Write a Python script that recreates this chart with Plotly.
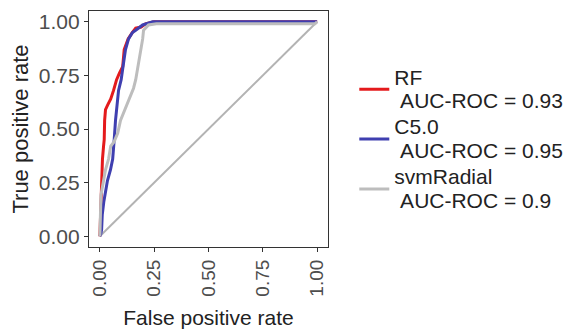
import plotly.graph_objects as go

# ---- data ----
rf_fpr = [0, 0.002, 0.005, 0.008, 0.012, 0.017, 0.020, 0.022, 0.026, 0.035, 0.050, 0.063, 0.077, 0.090, 0.105, 0.112, 0.130, 0.150, 0.165, 0.190, 0.210, 0.250, 1.0]
rf_tpr = [0, 0.08, 0.17, 0.28, 0.36, 0.42, 0.45, 0.54, 0.59, 0.61, 0.64, 0.68, 0.73, 0.76, 0.79, 0.87, 0.92, 0.95, 0.97, 0.975, 0.99, 1.0, 1.0]

c5_fpr = [0, 0.004, 0.008, 0.011, 0.018, 0.026, 0.035, 0.049, 0.059, 0.066, 0.072, 0.086, 0.098, 0.105, 0.118, 0.132, 0.150, 0.165, 0.197, 0.243, 1.0]
c5_tpr = [0, 0.01, 0.03, 0.10, 0.16, 0.20, 0.26, 0.31, 0.36, 0.45, 0.54, 0.68, 0.73, 0.78, 0.87, 0.92, 0.95, 0.96, 0.985, 1.0, 1.0]

svm_fpr = [0, 0.003, 0.005, 0.010, 0.017, 0.026, 0.040, 0.050, 0.065, 0.082, 0.095, 0.118, 0.141, 0.155, 0.165, 0.174, 0.188, 0.197, 0.201, 0.224, 0.26, 0.99, 1.0]
svm_tpr = [0, 0.10, 0.19, 0.22, 0.26, 0.31, 0.36, 0.42, 0.44, 0.48, 0.54, 0.60, 0.66, 0.69, 0.73, 0.78, 0.87, 0.92, 0.96, 0.985, 0.99, 0.99, 1.0]

diag_x = [0, 1]
diag_y = [0, 1]

models = ["RF", "C5.0", "svmRadial"]
aucs = ["0.93", "0.95", "0.9"]
tick_vals = [0, 0.25, 0.5, 0.75, 1.0]
tick_text = ["0.00", "0.25", "0.50", "0.75", "1.00"]

colors = ["#e41a1c", "#3f3fb0", "#bdbdbd"]
FONT = "Liberation Sans, Arial, sans-serif"


def legend_label(name, auc):
    return ('<span style="font-size:21px">' + name + '<br>\u00a0AUC-ROC = '
            + auc + '</span>')


fig = go.Figure()
fig.add_trace(go.Scatter(x=diag_x, y=diag_y, mode="lines",
                         line=dict(color="#b3b3b3", width=2),
                         showlegend=False, hoverinfo="skip"))
for fpr, tpr, name, auc, col in zip([rf_fpr, c5_fpr, svm_fpr],
                                    [rf_tpr, c5_tpr, svm_tpr],
                                    models, aucs, colors):
    fig.add_trace(go.Scatter(x=fpr, y=tpr, mode="lines",
                             line=dict(color=col, width=3),
                             name=legend_label(name, auc)))

axis_common = dict(
    range=[-0.05, 1.05], tickvals=tick_vals, ticktext=tick_text,
    showgrid=False, zeroline=False, showline=True, mirror=True,
    linecolor="#333333", linewidth=1.2, automargin=False,
    ticks="outside", ticklen=4, tickcolor="#333333", tickwidth=1.2,
)

# the page body adds an 8px offset, margins compensate for it
fig.update_layout(
    width=584, height=331,
    margin=dict(l=81, r=264, t=3, b=92),
    paper_bgcolor="white", plot_bgcolor="white",
    font=dict(family=FONT, color="#222222"),
    xaxis=dict(**axis_common, tickangle=-90,
               tickfont=dict(family=FONT, size=19, color="#4d4d4d"),
               title=dict(text="False positive rate", font=dict(size=21, family=FONT), standoff=14)),
    yaxis=dict(**axis_common,
               tickfont=dict(family=FONT, size=21, color="#4d4d4d"),
               title=dict(text="True positive rate", font=dict(size=22, family=FONT), standoff=5)),
    legend=dict(x=1.11, xanchor="left", y=0.795, yanchor="top",
                font=dict(size=18, family=FONT, color="#222222"),
                bgcolor="rgba(0,0,0,0)", borderwidth=0, tracegroupgap=0),
)

fig.write_html("out.html")
